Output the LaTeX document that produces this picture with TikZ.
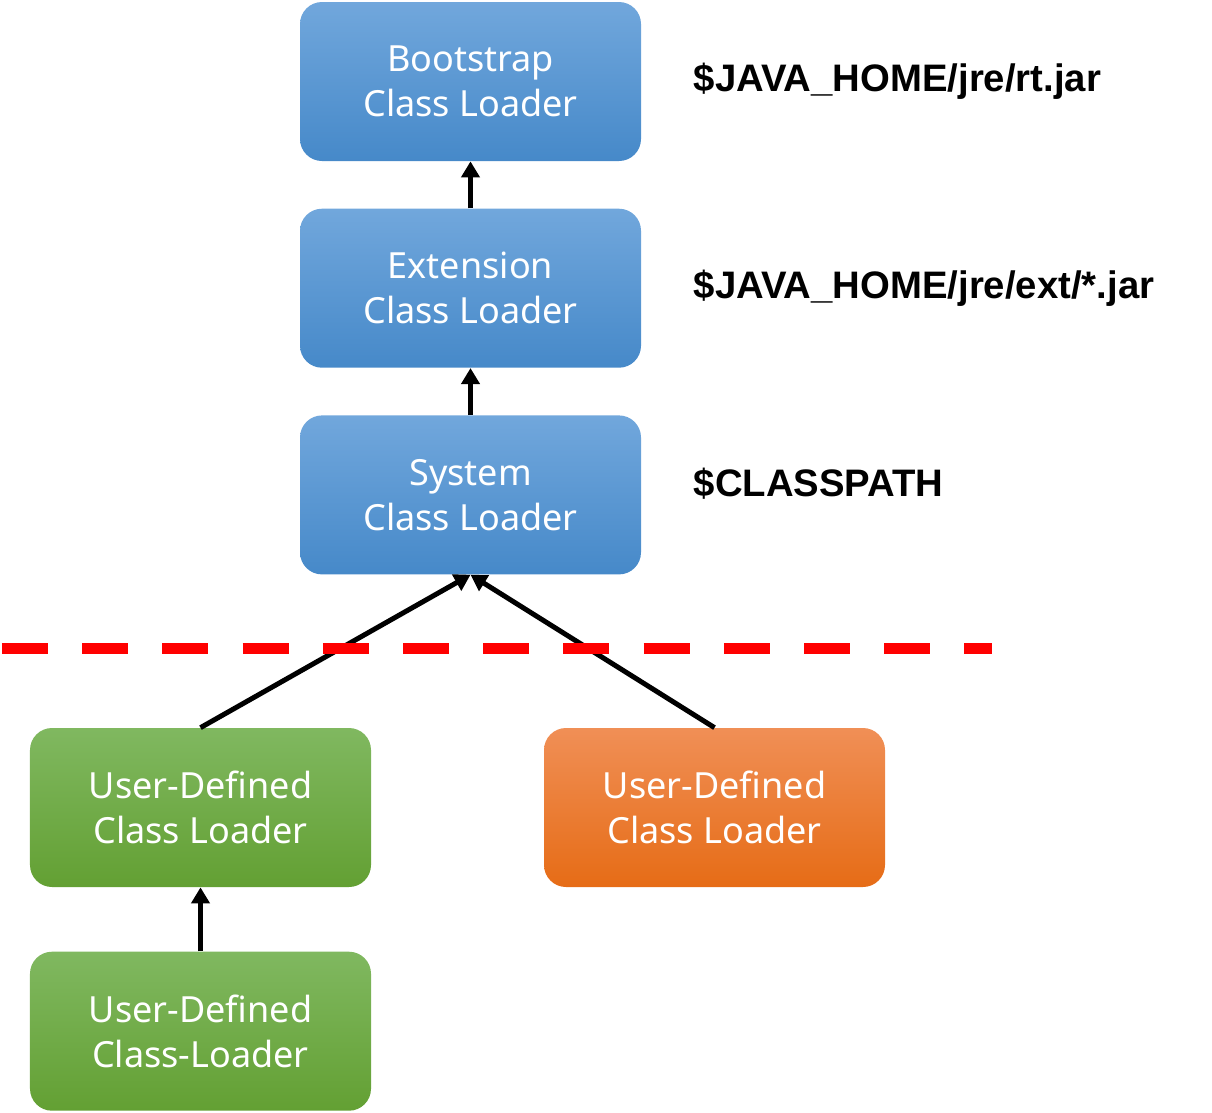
\documentclass[tikz,border=0pt]{standalone}
\usepackage{fontspec}
\setmainfont{Noto Sans}
\newfontfamily\pathfont{Liberation Sans}
\usepackage{tikz}
\usetikzlibrary{shapes, arrows.meta, positioning}

\definecolor{bluetop}{RGB}{113,167,220}
\definecolor{bluebot}{RGB}{70,137,201}
\definecolor{greentop}{RGB}{128,184,96}
\definecolor{greenbot}{RGB}{99,160,51}
\definecolor{orangetop}{RGB}{240,143,86}
\definecolor{orangebot}{RGB}{230,108,22}

\begin{document}
\begin{tikzpicture}[node distance = 0.94cm]

\tikzstyle{loader} = [rectangle, rounded corners=0.44cm, minimum width=6.82cm, minimum height=3.18cm, align=center, text=white, font=\fontsize{20.5}{25.6}\selectfont]
\tikzstyle{sysbox} = [loader, top color=bluetop, bottom color=bluebot]
\tikzstyle{userbox} = [loader, top color=greentop, bottom color=greenbot]
\tikzstyle{otherbox} = [loader, top color=orangetop, bottom color=orangebot]
\tikzstyle{path} = [anchor=west, inner sep=0pt, font=\pathfont\bfseries\fontsize{21.8}{25}\selectfont]
\tikzstyle{arrow} = [line width=0.1cm, -{Triangle[length=0.32cm, width=0.36cm]}]

\useasboundingbox (0,0) rectangle (24.24,-22.24);

% base
\node (boot)[sysbox] at (9.41,-1.63) {Bootstrap\\Class Loader};

% lvl 1
\node (ext)[sysbox, below = of boot]{Extension\\Class Loader};
\node (sys)[sysbox, below = of ext]{System\\Class Loader};

% lvl 2
\node (user_a)[userbox] at (4.01,-16.15) {User-Defined\\Class Loader};
\node (user_b)[otherbox] at (14.29,-16.15) {User-Defined\\Class Loader};
\node (user_c)[userbox, below = 1.28cm of user_a]{User-Defined\\Class-Loader};

% paths
\node (boot_path)[path, right = 1.04cm of boot]{\$JAVA\_HOME/jre/rt.jar};
\node (ext_path)[path, right = 1.04cm of ext]{\$JAVA\_HOME/jre/ext/*.jar};
\node (sys_path)[path, right = 1.04cm of sys, yshift = 0.22cm]{\$CLASSPATH};

% arrows
\draw[arrow] (ext) -- (boot);
\draw[arrow] (sys) -- (ext);
\draw[arrow] (user_a.north) -- (sys.south);
\draw[arrow] (user_b.north) -- (sys.south);
\draw[arrow] (user_c) -- (user_a);

% border line
\coordinate (cut_l) at (0.04,-12.96);
\coordinate (cut_r) at (19.84,-12.96);
\draw[red, line width=0.22cm, dash pattern=on 0.92cm off 0.684cm] (cut_l) -- (cut_r);

\end{tikzpicture}
\end{document}
